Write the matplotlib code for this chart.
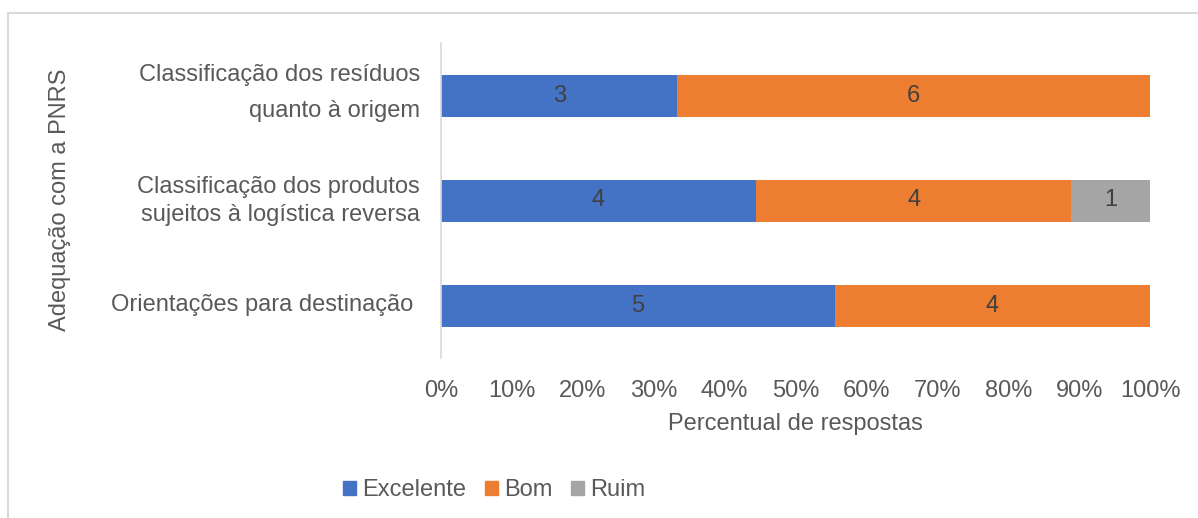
import matplotlib.pyplot as plt
import matplotlib.patches as mpatches
import numpy as np

plt.rcParams['font.family'] = ['Liberation Sans', 'DejaVu Sans']

# Response counts per item (Excelente / Bom / Ruim)
categories = ['Classificação dos resíduos\nquanto à origem',
              'Classificação dos produtos\nsujeitos à logística reversa',
              'Orientações para destinação ']
excelente = [3, 4, 5]
bom = [6, 4, 4]
ruim = [0, 1, 0]
series_names = ['Excelente', 'Bom', 'Ruim']
colors = ['#4472C4', '#ED7D31', '#A5A5A5']
xticks = [0, 0.1, 0.2, 0.3, 0.4, 0.5, 0.6, 0.7, 0.8, 0.9, 1.0]

text_color = '#595959'
fs = 17

fig = plt.figure(figsize=(11.98, 5.18), dpi=100)
ax = fig.add_axes([441 / 1198, 1 - 358 / 518, 709 / 1198, 315 / 518])

counts = np.array([excelente, bom, ruim], dtype=float)
totals = counts.sum(axis=0)
shares = counts / totals
y = np.arange(len(categories))

left = np.zeros(len(categories))
for name, col, share, cnt in zip(series_names, colors, shares, counts):
    bars = ax.barh(y, share, left=left, height=0.4, color=col, label=name)
    for b, c in zip(bars, cnt):
        if c > 0:
            ax.text(b.get_x() + b.get_width() / 2, b.get_y() + b.get_height() / 2,
                    f'{int(c)}', ha='center', va='center', fontsize=fs,
                    color='#404040')
    left += share

ax.set_xlim(0, 1)
ax.set_ylim(2.5, -0.5)

# category labels drawn by hand so each can have its own line spacing
ax.set_yticks([])
for yi, cat, ls, dy in zip(y, categories, [1.85, 1.35, 1.2], [1.7, -0.5, 0.5]):
    ax.annotate(cat, xy=(0, yi), xycoords=('axes fraction', 'data'),
                xytext=(-15, dy), textcoords='offset points',
                ha='right', va='center', multialignment='right',
                linespacing=ls, fontsize=fs, color=text_color)

ax.set_xticks(xticks)
ax.set_xticklabels([f'{int(round(t * 100))}%' for t in xticks],
                   fontsize=fs, color=text_color)
ax.tick_params(axis='both', length=0)
ax.tick_params(axis='x', pad=15.5)

for side in ['top', 'right', 'bottom']:
    ax.spines[side].set_visible(False)
ax.spines['left'].set_color('#D9D9D9')
ax.spines['left'].set_linewidth(1.2)

ax.set_xlabel('Percentual de respostas', fontsize=fs, color=text_color,
              labelpad=8)
fig.text(60 / 1198, 1 - 200 / 518, 'Adequação com a PNRS', rotation=90,
         ha='center', va='center', fontsize=fs, color=text_color)

handles = [mpatches.Patch(color=c, label=n) for c, n in zip(colors, series_names)]
fig.legend(handles=handles, loc='center', bbox_to_anchor=(494 / 1198, 1 - 490 / 518),
           ncol=3, frameon=False, fontsize=fs, labelcolor=text_color,
           handlelength=0.55, handleheight=0.55, handletextpad=0.25,
           columnspacing=0.8)

# outer chart border
fig.patches.append(mpatches.Rectangle((8 / 1198, -0.1), 1.1, 1.1 - 13 / 518,
                                      transform=fig.transFigure, fill=False,
                                      edgecolor='#D9D9D9', linewidth=1.5))

fig.savefig('out.png', dpi=100)
